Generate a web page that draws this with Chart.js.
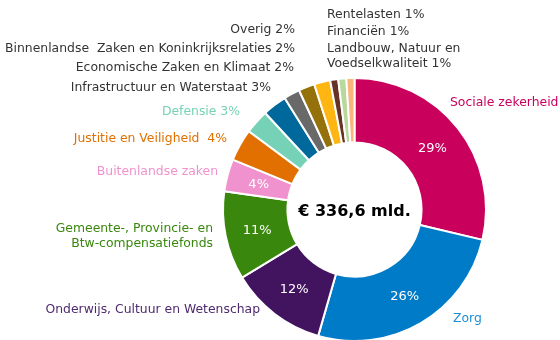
<!DOCTYPE html>
<html>
<head>
<meta charset="utf-8">
<script src="https://cdn.jsdelivr.net/npm/chart.js@4"></script>
<style>
  html, body { margin: 0; padding: 0; width: 560px; height: 340px; overflow: hidden; background: #fff; }
  #wrap { position: absolute; left: 0; top: 0; width: 560px; height: 345px; }
</style>
</head>
<body>
<div id="wrap"><canvas id="chart"></canvas></div>
<script>
// rijksbegroting: uitgaven per domein, in procenten van het totaal
const categories = [
    'Sociale zekerheid', 'Zorg', 'Onderwijs, Cultuur en Wetenschap',
    'Gemeente-, Provincie- en Btw-compensatiefonds', 'Buitenlandse zaken',
    'Justitie en Veiligheid', 'Defensie', 'Infrastructuur en Waterstaat',
    'Economische Zaken en Klimaat', 'Binnenlandse Zaken en Koninkrijksrelaties',
    'Overig', 'Landbouw, Natuur en Voedselkwaliteit', 'Financiën', 'Rentelasten'
];
const shares = [29, 26, 12, 11, 4, 4, 3, 3, 2, 2, 2, 1, 1, 1];
const colors = [
    '#ca005d', '#007bc7', '#42145f', '#39870c', '#f092cd', '#e17000', '#76d2b6',
    '#01689b', '#696969', '#94710a', '#ffb612', '#673327', '#b9d99c', '#f9b57a'
];
const total = '€ 336,6 mld.';

// which slices carry their percentage inside the ring
const showInside = [true, true, true, true, true, false, false, false, false, false, false, false, false, false];

// outer label lines; {v} is replaced by the slice value
const labelLines = [
    ['Sociale zekerheid'],
    ['Zorg'],
    ['Onderwijs, Cultuur en Wetenschap'],
    ['Gemeente-, Provincie- en', 'Btw-compensatiefonds'],
    ['Buitenlandse zaken'],
    ['Justitie en Veiligheid  {v}%'],
    ['Defensie {v}%'],
    ['Infrastructuur en Waterstaat {v}%'],
    ['Economische Zaken en Klimaat {v}%'],
    ['Binnenlandse  Zaken en Koninkrijksrelaties {v}%'],
    ['Overig {v}%'],
    ['Landbouw, Natuur en', 'Voedselkwaliteit {v}%'],
    ['Financiën {v}%'],
    ['Rentelasten {v}%']
];

// label anchor, alignment, line height and colour
const labelPos = [
    { x: 450, y: 103, align: 'left', color: '#ca005d' },
    { x: 453, y: 319, align: 'left', color: '#1e8fd6' },
    { x: 260, y: 310, align: 'right', color: '#4f2a6e' },
    { x: 213, y: 229, align: 'right', color: '#39870c', lh: 15 },
    { x: 218, y: 172, align: 'right', color: '#f092cd' },
    { x: 227, y: 139, align: 'right', color: '#e17000' },
    { x: 240, y: 112, align: 'right', color: '#76d2b6' },
    { x: 271, y: 88, align: 'right', color: '#333' },
    { x: 294, y: 68, align: 'right', color: '#333' },
    { x: 295, y: 49, align: 'right', color: '#333' },
    { x: 295, y: 30, align: 'right', color: '#333' },
    { x: 327, y: 49, align: 'left', color: '#333', lh: 15 },
    { x: 327, y: 32, align: 'left', color: '#333' },
    { x: 327, y: 15, align: 'left', color: '#333' }
];

const FONT = '"DejaVu Sans", Verdana, sans-serif';

const labelPlugin = {
    id: 'sliceLabels',
    afterDatasetsDraw(chart) {
        const ctx = chart.ctx;
        const meta = chart.getDatasetMeta(0);
        ctx.save();
        ctx.textBaseline = 'middle';

        // percentages inside the ring
        ctx.font = '13px ' + FONT;
        ctx.fillStyle = '#ffffff';
        ctx.textAlign = 'center';
        meta.data.forEach((arc, i) => {
            if (!showInside[i]) return;
            const p = arc.tooltipPosition();
            ctx.fillText(shares[i] + '%', p.x, p.y + 1);
        });

        // outer labels
        ctx.font = '12.4px ' + FONT;
        labelLines.forEach((lines, i) => {
            const pos = labelPos[i];
            ctx.fillStyle = pos.color;
            ctx.textAlign = pos.align;
            lines.forEach((line, j) => {
                ctx.fillText(line.replace('{v}', shares[i]), pos.x, pos.y + j * (pos.lh || 15));
            });
        });

        // total in the centre
        const arc0 = meta.data[0];
        ctx.font = 'bold 16px ' + FONT;
        ctx.fillStyle = '#000';
        ctx.textAlign = 'center';
        ctx.fillText(total, arc0.x, arc0.y + 2);
        ctx.restore();
    }
};

new Chart(document.getElementById('chart'), {
    type: 'doughnut',
    data: {
        labels: categories,
        datasets: [{
            data: shares,
            backgroundColor: colors,
            borderColor: '#ffffff',
            borderWidth: 2
        }]
    },
    options: {
        responsive: true,
        maintainAspectRatio: false,
        animation: false,
        cutout: '51%',
        layout: { padding: { left: 222, right: 73, top: 77, bottom: 3 } },
        plugins: {
            legend: { display: false },
            tooltip: { enabled: false }
        }
    },
    plugins: [labelPlugin]
});
</script>
</body>
</html>
